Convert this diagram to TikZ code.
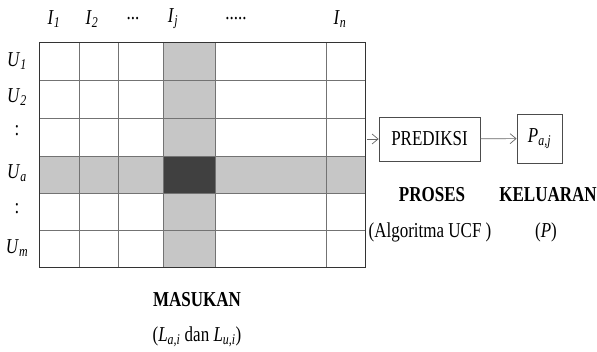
\documentclass[tikz,border=0pt]{standalone}
\usepackage{graphicx}
\usepackage{fontspec}
\setmainfont{Liberation Serif}
\usetikzlibrary{arrows.meta, positioning}
\newcommand{\itsub}[2]{\textit{#1}\textsubscript{\textit{#2}}}
\newcommand{\tall}[1]{\scalebox{1}[1.25]{#1}}

\begin{document}
\begin{tikzpicture}[
    x=1pt, y=-1pt,
    >={Straight Barb[length=6pt,width=10pt]},
    every node/.style={font=\fontsize{17}{20}\selectfont, inner sep=0pt},
    gridline/.style={draw=black!55, line width=0.8pt},
    procbox/.style={draw=black!70, line width=0.8pt, minimum height=44pt},
    flow/.style={->, draw=black!60, line width=0.7pt},
    heading/.style={font=\fontsize{17}{20}\selectfont\bfseries}
]
\useasboundingbox (0,0) rectangle (597,352);

% ---------------- MATRIX ----------------
\fill[gray!45]  (163,43)  rectangle (215,268);
\fill[gray!45]  (39,156)  rectangle (365,193);
\fill[black!75] (163,156) rectangle (215,193);
\foreach \x in {79,118,163,215,326}
    \draw[gridline] (\x,43) -- (\x,268);
\foreach \y in {80,118,156,193,230}
    \draw[gridline] (39,\y) -- (365,\y);
\draw[black!80, line width=1pt] (39,43) rectangle (365,268);

% column and row labels
\foreach \x/\t [count=\i] in {54/{\itsub{I}{1}}, 92/{\itsub{I}{2}}, 133/{...}, 173/{\itsub{I}{j}}, 236/{.....}, 340/{\itsub{I}{n}}}
    \node (colhead\i) at (\x,19) {\tall{\t}};
\foreach \y/\t [count=\i] in {61/{\itsub{U}{1}}, 97/{\itsub{U}{2}}, 131/{:}, 173/{\itsub{U}{a}}, 209/{:}, 248/{\itsub{U}{m}}}
    \node (rowhead\i) at (17,\y) {\tall{\t}};

\node[heading] (masukan)  at (197,300) {\tall{MASUKAN}};
\node          (masukdet) at (197,337) {\tall{(\itsub{L}{a,i} dan \itsub{L}{u,i})}};

% ---------------- PROSES / KELUARAN ----------------
\coordinate (gridout) at (367,139);
\node[procbox, minimum width=101pt]                     (prediksi) at (429.5,139) {\tall{PREDIKSI}};
\node[procbox, minimum width=45pt, minimum height=49pt] (keluaran) at (539.5,138.5) {\tall{\itsub{P}{a,j}}};

\draw[flow] (gridout)  -- (prediksi);
\draw[flow] (prediksi) -- (keluaran);

\node[heading] (proses)    at (432,195) {\tall{PROSES}};
\node[heading] (keluartxt) at (548,195) {\tall{KELUARAN}};
\node          (prosesdet) at (430,232) {\tall{(Algoritma UCF )}};
\node          (keluardet) at (546,232) {\tall{(\textit{P})}};

\end{tikzpicture}
\end{document}
